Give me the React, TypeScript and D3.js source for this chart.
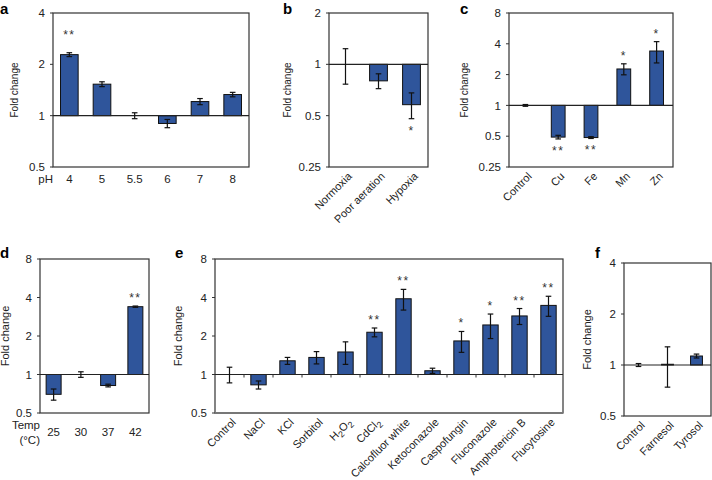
import React from 'react';
import * as d3 from 'd3';

// ---------- data ----------
const aCats = ['4', '5', '5.5', '6', '7', '8'];
const aVals = [2.28, 1.53, 1.0, 0.9, 1.21, 1.33];
const aErr = [0.06, 0.05, 0.04, 0.05, 0.05, 0.04];
const aSig = ['**', '', '', '', '', ''];
const aTicks = [0.5, 1, 2, 4];

const bCats = ['Normoxia', 'Poor aeration', 'Hypoxia'];
const bVals = [1.0, 0.8, 0.58];
const bErr = [0.235, 0.08, 0.1];
const bSig = ['', '', '*'];
const bTicks = [0.25, 0.5, 1, 2];

const cCats = ['Control', 'Cu', 'Fe', 'Mn', 'Zn'];
const cVals = [1.0, 0.49, 0.485, 2.27, 3.4];
const cErr = [0.02, 0.02, 0.01, 0.28, 0.8];
const cSig = ['', '**', '**', '*', '*'];
const cTicks = [0.25, 0.5, 1, 2, 4, 8];

const dCats = ['25', '30', '37', '42'];
const dVals = [0.7, 1.0, 0.82, 3.39];
const dErr = [0.07, 0.05, 0.02, 0.04];
const dSig = ['', '', '', '**'];
const dTicks = [0.5, 1, 2, 4, 8];

const eCats = ['Control', 'NaCl', 'KCl', 'Sorbitol', 'H2O2', 'CdCl2', 'Calcofluor white',
  'Ketoconazole', 'Caspofungin', 'Fluconazole', 'Amphotericin B', 'Flucytosine'];
const eVals = [1.0, 0.83, 1.28, 1.36, 1.5, 2.14, 3.91, 1.07, 1.83, 2.44, 2.87, 3.47];
const eErr = [0.14, 0.06, 0.08, 0.15, 0.3, 0.17, 0.72, 0.05, 0.34, 0.53, 0.41, 0.62];
const eSig = ['', '', '', '', '', '**', '**', '', '*', '*', '**', '**'];
const eTicks = [0.5, 1, 2, 4, 8];

const fCats = ['Control', 'Farnesol', 'Tyrosol'];
const fVals = [1.0, 1.01, 1.13];
const fErr = [0.02, 0.27, 0.03];
const fSig = ['', '', ''];
const fTicks = [0.5, 1, 2, 4];

const BAR = '#2f559b';
const FONT = '"Liberation Sans", Arial, Helvetica, sans-serif';

function renderLabel(s: string) {
  if (s === 'H2O2' || s === 'CdCl2') {
    const parts = s.split(/(\d)/).filter((p) => p.length);
    let shifted = false;
    return parts.map((p, i) => {
      if (/\d/.test(p)) {
        shifted = true;
        return (
          <tspan key={i} dy={3} fontSize="0.8em">{p}</tspan>
        );
      }
      const el = <tspan key={i} dy={shifted ? -3 : 0}>{p}</tspan>;
      shifted = false;
      return el;
    });
  }
  return s;
}

type PanelProps = {
  letter: string;
  letterX: number;
  letterY: number;
  x0: number; x1: number; y0: number; y1: number;
  domain: [number, number];
  ticks: number[];
  cats: string[];
  vals: number[];
  errs: number[];
  sig: string[];
  barFrac: number;
  rotated: boolean;
  ylabX: number;
  ylabSize: number;
  starGap: number;
  boundaryTicks?: boolean;
  bottomGray?: boolean;
  flatLabelY?: number;
  children?: React.ReactNode;
};

function Panel(p: PanelProps) {
  const y = d3.scaleLog().base(2).domain(p.domain).range([p.y1, p.y0]);
  const x = d3.scaleBand().domain(p.cats).range([p.x0, p.x1]).paddingInner(1 - p.barFrac).paddingOuter((1 - p.barFrac) / 2);
  const step = x.step();
  const bw = x.bandwidth();
  const base = y(1);
  const capW = 2.8;
  return (
    <g fontFamily={FONT}>
      <text x={p.letterX} y={p.letterY} fontSize={15} fontWeight="bold" fill="#000">{p.letter}</text>
      {/* y axis label */}
      <text transform={`translate(${p.ylabX},${(p.y0 + p.y1) / 2}) rotate(-90)`} textAnchor="middle" fontSize={p.ylabSize} fill="#222">Fold change</text>
      {/* y ticks */}
      {p.ticks.map((t) => (
        <g key={t}>
          <line x1={p.x0 - 3} x2={p.x0} y1={y(t)} y2={y(t)} stroke="#333" strokeWidth={1} />
          <text x={p.x0 - 8} y={y(t)} dy="0.36em" textAnchor="end" fontSize={11.5} fill="#222">{t}</text>
        </g>
      ))}
      {/* frame */}
      <rect x={p.x0} y={p.y0} width={p.x1 - p.x0} height={p.y1 - p.y0} fill="none" stroke="#333" strokeWidth={1.2} />
      {p.bottomGray && <line x1={p.x0} x2={p.x1} y1={p.y1} y2={p.y1} stroke="#777" strokeWidth={2} />}
      {/* bars */}
      {p.cats.map((c, i) => {
        const v = p.vals[i];
        const yv = y(v);
        const top = Math.min(yv, base);
        const h = Math.abs(yv - base);
        return h > 0.6 ? (
          <rect key={c} x={x(c)!} y={top} width={bw} height={h} fill={BAR} stroke="#111" strokeWidth={1} />
        ) : null;
      })}
      {/* baseline */}
      <line x1={p.x0} x2={p.x1} y1={base} y2={base} stroke="#222" strokeWidth={1.2} />
      {p.boundaryTicks && p.cats.slice(1).map((c) => (
        <line key={c} x1={x(c)! - (step - bw) / 2} x2={x(c)! - (step - bw) / 2} y1={base} y2={base + 3} stroke="#333" strokeWidth={1} />
      ))}
      {/* error bars */}
      {p.cats.map((c, i) => {
        const cx = x(c)! + bw / 2;
        const v = p.vals[i];
        const hi = y(v + p.errs[i]);
        const lo = y(Math.max(v - p.errs[i], 0.01));
        return (
          <g key={c} stroke="#111" strokeWidth={1.2}>
            <line x1={cx} x2={cx} y1={hi} y2={lo} />
            <line x1={cx - capW} x2={cx + capW} y1={hi} y2={hi} />
            <line x1={cx - capW} x2={cx + capW} y1={lo} y2={lo} />
          </g>
        );
      })}
      {/* significance */}
      {p.cats.map((c, i) => {
        if (!p.sig[i]) return null;
        const cx = x(c)! + bw / 2;
        const v = p.vals[i];
        const up = v >= 1;
        const ey = up ? y(v + p.errs[i]) - p.starGap : y(v - p.errs[i]) + p.starGap;
        return (
          <text key={c} x={cx} y={ey + 6} textAnchor="middle" fontSize={12} letterSpacing={1.5} fill="#333">{p.sig[i]}</text>
        );
      })}
      {/* category labels */}
      {p.cats.map((c) => {
        const cx = x(c)! + bw / 2;
        if (p.rotated) {
          return (
            <text key={c} transform={`translate(${cx + 7},${p.y1 + 10}) rotate(-45)`} textAnchor="end" fontSize={11} fill="#222">{renderLabel(c)}</text>
          );
        }
        return (
          <text key={c} x={cx} y={p.flatLabelY} textAnchor="middle" fontSize={11.5} fill="#222">{c}</text>
        );
      })}
      {p.children}
    </g>
  );
}

export default function App() {
  return (
    <svg width={712} height={480} style={{ position: 'absolute', left: 0, top: 0, background: '#fff' }}>
      <rect width={712} height={480} fill="#fff" />
      <Panel letter="a" letterX={0} letterY={14} x0={53} x1={249} y0={13} y1={167} domain={[0.5, 4]} ticks={aTicks}
        cats={aCats} vals={aVals} errs={aErr} sig={aSig} barFrac={0.54} rotated={false} ylabX={18} ylabSize={10}
        starGap={20} flatLabelY={183}>
        <text x={53} y={183} textAnchor="end" fontSize={11.5} fontFamily={FONT} fill="#222">pH</text>
      </Panel>
      <Panel letter="b" letterX={283} letterY={14} x0={329} x1={428} y0={13} y1={167} domain={[0.25, 2]} ticks={bTicks}
        cats={bCats} vals={bVals} errs={bErr} sig={bSig} barFrac={0.54} rotated={true} ylabX={291} ylabSize={10}
        starGap={10} />
      <Panel letter="c" letterX={460} letterY={14} x0={509} x1={673} y0={13} y1={167} domain={[0.25, 8]} ticks={cTicks}
        cats={cCats} vals={cVals} errs={cErr} sig={cSig} barFrac={0.42} rotated={true} ylabX={468} ylabSize={10}
        starGap={10} />
      <Panel letter="d" letterX={0} letterY={258} x0={40} x1={149} y0={259} y1={413} domain={[0.5, 8]} ticks={dTicks}
        cats={dCats} vals={dVals} errs={dErr} sig={dSig} barFrac={0.55} rotated={false} ylabX={9} ylabSize={11}
        starGap={10} flatLabelY={436}>
        <text x={40} y={429} textAnchor="end" fontSize={11.5} fontFamily={FONT} fill="#222">Temp</text>
        <text x={40} y={444} textAnchor="end" fontSize={11.5} fontFamily={FONT} fill="#222">(°C)</text>
      </Panel>
      <Panel letter="e" letterX={175} letterY={258} x0={215} x1={563} y0={259} y1={413} domain={[0.5, 8]} ticks={eTicks}
        cats={eCats} vals={eVals} errs={eErr} sig={eSig} barFrac={0.53} rotated={true} ylabX={182} ylabSize={11}
        starGap={10} boundaryTicks={true} bottomGray={true} />
      <Panel letter="f" letterX={595} letterY={258} x0={624} x1={711} y0={263} y1={416} domain={[0.5, 4]} ticks={fTicks}
        cats={fCats} vals={fVals} errs={fErr} sig={fSig} barFrac={0.41} rotated={true} ylabX={591} ylabSize={11}
        starGap={10} />
    </svg>
  );
}
